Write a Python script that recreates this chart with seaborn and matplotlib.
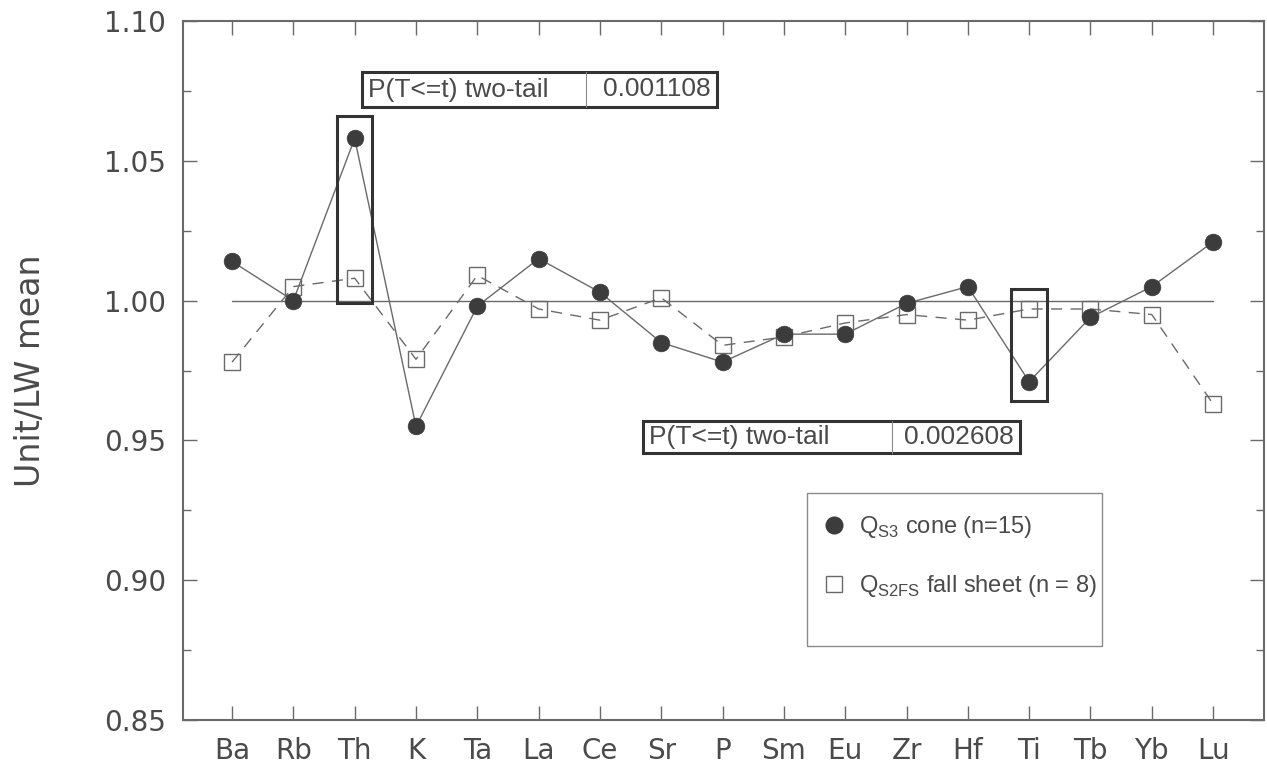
import numpy as np
import pandas as pd
import matplotlib
matplotlib.use("Agg")
import matplotlib.pyplot as plt
import seaborn as sns
from matplotlib.patches import Rectangle
from matplotlib.lines import Line2D
from matplotlib.ticker import MultipleLocator, FormatStrFormatter

# data
elements = ["Ba", "Rb", "Th", "K", "Ta", "La", "Ce", "Sr", "P", "Sm",
            "Eu", "Zr", "Hf", "Ti", "Tb", "Yb", "Lu"]
cone = [1.014, 1.000, 1.058, 0.955, 0.998, 1.015, 1.003, 0.985, 0.978, 0.988,
        0.988, 0.999, 1.005, 0.971, 0.994, 1.005, 1.021]
fall_sheet = [0.978, 1.005, 1.008, 0.979, 1.009, 0.997, 0.993, 1.001, 0.984, 0.987,
              0.992, 0.995, 0.993, 0.997, 0.997, 0.995, 0.963]
cone_label = r"Q$_{\mathregular{S3}}$ cone (n=15)"
fall_label = r"Q$_{\mathregular{S2FS}}$ fall sheet (n = 8)"
p_label = "P(T<=t) two-tail"
p_values = ["0.001108", "0.002608"]
highlight = ["Th", "Ti"]

df = pd.DataFrame({"pos": np.arange(len(elements)), "element": elements,
                   "cone": cone, "fall": fall_sheet})

sns.set_theme(style="ticks")
plt.rcParams["font.family"] = ["DejaVu Sans"]
plt.rcParams["xtick.direction"] = "in"
plt.rcParams["ytick.direction"] = "in"

W, H = 1267, 768
fig = plt.figure(figsize=(W / 100, H / 100), dpi=100)
ax = fig.add_axes([183 / W, 1 - 720 / H, (1264 - 183) / W, (720 - 21) / H])

grey = "#6a6a6a"
dark = "#3c3c3c"
txt = "#4a4a4a"

# reference line at 1.00
ax.plot([0, len(elements) - 1], [1.0, 1.0], color=grey, lw=1.0, zorder=1)

# fall sheet: open squares, dashed
sns.lineplot(data=df, x="pos", y="fall", ax=ax, sort=False, color=grey,
             linestyle=(0, (8, 6)), lw=1.0, marker="s", markersize=12,
             markerfacecolor="none", markeredgecolor=grey, markeredgewidth=1.0,
             zorder=2)
# cone: filled circles, solid
sns.lineplot(data=df, x="pos", y="cone", ax=ax, sort=False, color=grey,
             lw=1.0, marker="o", markersize=12, markerfacecolor=dark,
             markeredgecolor=dark, markeredgewidth=0.5, zorder=3)

# highlight boxes around Th and Ti
for el, (y0, y1) in zip(highlight, [(0.999, 1.066), (0.964, 1.004)]):
    i = elements.index(el)
    ax.add_patch(Rectangle((i - 0.29, y0), 0.58, y1 - y0, fill=False,
                           edgecolor="#333333", lw=2.2, zorder=4))

ax.set_xlim(-0.8, len(elements) - 1 + 0.83)
ax.set_ylim(0.85, 1.10)
ax.set_xticks(df["pos"])
ax.set_xticklabels(elements)
ax.yaxis.set_major_locator(MultipleLocator(0.05))
ax.yaxis.set_minor_locator(MultipleLocator(0.025))
ax.yaxis.set_major_formatter(FormatStrFormatter("%.2f"))
ax.tick_params(axis="both", which="both", top=True, right=True, colors=grey,
               labelcolor=txt, labelsize=20, width=1.0)
ax.tick_params(axis="both", which="major", length=10, pad=12)
ax.tick_params(axis="y", which="minor", length=6)
ax.set_xlabel("")
ax.set_ylabel("Unit/LW mean", fontsize=24, color=txt)
ax.yaxis.set_label_coords((47 - 183) / (1264 - 183), 0.5)
for s in ax.spines.values():
    s.set_color(grey)
    s.set_linewidth(1.5)


def fbox(x0, y0, x1, y1):
    return Rectangle((x0 / W, 1 - y1 / H), (x1 - x0) / W, (y1 - y0) / H,
                     transform=fig.transFigure, fill=False)


# p-value boxes
for (x0, y0, x1, y1, xd), pv in zip([(362, 72, 717, 107, 586),
                                     (643, 421, 1020, 453, 892)], p_values):
    r = fbox(x0, y0, x1, y1)
    r.set_edgecolor("#333333")
    r.set_linewidth(2.2)
    fig.add_artist(r)
    fig.add_artist(Line2D([xd / W, xd / W], [1 - y0 / H, 1 - y1 / H],
                          transform=fig.transFigure, color="#8a8a8a", lw=0.8))
    yc = 1 - (y0 + y1) / 2 / H
    fig.text((x0 + 6) / W, yc, p_label, ha="left", va="center", fontsize=19,
             color=txt, family="Liberation Sans")
    fig.text((x1 - 6) / W, yc, pv, ha="right", va="center", fontsize=19,
             color=txt, family="Liberation Sans")

# legend
lb = fbox(807, 493, 1102, 646)
lb.set_edgecolor("#8a8a8a")
lb.set_linewidth(1.0)
fig.add_artist(lb)
handles = [Line2D([], [], ls="none", marker="o", markersize=12,
                  markerfacecolor=dark, markeredgecolor=dark),
           Line2D([], [], ls="none", marker="s", markersize=12,
                  markerfacecolor="none", markeredgecolor=grey)]
fig.legend(handles, [cone_label, fall_label], loc="upper left",
           bbox_to_anchor=(822 / W, 1 - 514 / H), frameon=False,
           prop={"family": "Liberation Sans", "size": 17}, labelcolor=txt,
           handlelength=1.0, handletextpad=0.55, labelspacing=1.4,
           borderpad=0, borderaxespad=0)

fig.savefig("out.png", dpi=100)
